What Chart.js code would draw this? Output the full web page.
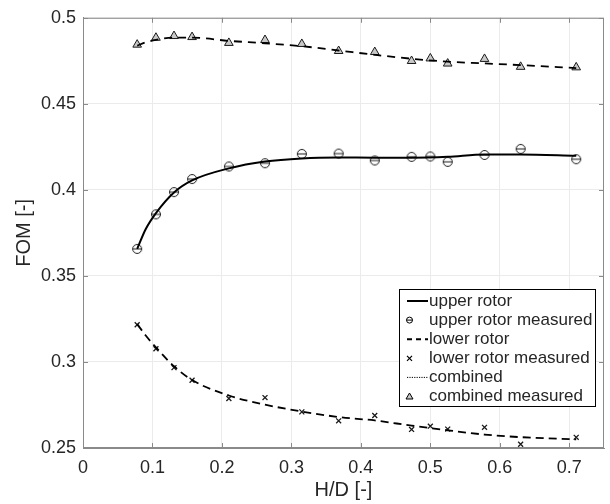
<!DOCTYPE html>
<html>
<head>
<meta charset="utf-8">
<script src="https://cdn.jsdelivr.net/npm/chart.js@4.4.1/dist/chart.umd.min.js"></script>
<style>
  html, body { margin: 0; padding: 0; background: #fff; }
  #wrap { width: 610px; height: 504px; }
</style>
</head>
<body>
<div id="wrap"><canvas id="fom" width="610" height="504"></canvas></div>
<script>
// ── Data ─────────────────────────────────────────────────────────────────────
// H/D of the measured points
const hdMeas = [0.078, 0.105, 0.131, 0.157, 0.21, 0.262, 0.315, 0.368, 0.42, 0.473, 0.5, 0.525, 0.578, 0.63, 0.71];
const upperMeas    = [0.3657, 0.3858, 0.3987, 0.4063, 0.4136, 0.4155, 0.4209, 0.4211, 0.4171, 0.4192, 0.4194, 0.4163, 0.4203, 0.4238, 0.4178];
const lowerMeas    = [0.3216, 0.3077, 0.2967, 0.2894, 0.2788, 0.2793, 0.2710, 0.2658, 0.2689, 0.2608, 0.2627, 0.2610, 0.2620, 0.2522, 0.2562];
const combinedMeas = [0.4844, 0.4884, 0.4894, 0.4888, 0.4854, 0.4871, 0.4848, 0.4807, 0.4801, 0.4749, 0.4764, 0.4734, 0.4761, 0.4715, 0.4712];

// H/D of the fitted curves
const hdFit = [0.078, 0.09, 0.105, 0.131, 0.157, 0.21, 0.262, 0.315, 0.368, 0.42, 0.473, 0.525, 0.578, 0.63, 0.71];
const upperFit    = [0.3657, 0.3770, 0.3865, 0.3985, 0.4055, 0.4125, 0.4165, 0.4183, 0.4188, 0.4187, 0.4187, 0.4192, 0.4205, 0.4205, 0.4198];
const lowerFit    = [0.3220, 0.3155, 0.3085, 0.2975, 0.2895, 0.2805, 0.2752, 0.2712, 0.2680, 0.2660, 0.2630, 0.2603, 0.2578, 0.2563, 0.2550];
const combinedFit = [0.4838, 0.4857, 0.4872, 0.4885, 0.4885, 0.4866, 0.4852, 0.4835, 0.4810, 0.4785, 0.4762, 0.4745, 0.4735, 0.4725, 0.4708];

const xTicks = [0, 0.1, 0.2, 0.3, 0.4, 0.5, 0.6, 0.7];
const yTicks = [0.25, 0.3, 0.35, 0.4, 0.45, 0.5];

const FONT = 'Liberation Sans, Arial, Helvetica, sans-serif';
const TXT  = '#262626';
const AXIS = '#8a8a8a';

const pts = (xs, ys) => xs.map((x, i) => ({ x, y: ys[i] }));
const fmt = v => String(+v.toFixed(2));

// circle marker with a bar through it
function thetaMarker(r) {
    const s = Math.ceil(r * 2 + 3);
    const c = document.createElement('canvas');
    c.width = s; c.height = s;
    const g = c.getContext('2d');
    g.strokeStyle = '#1a1a1a';
    g.lineWidth = 1;
    g.beginPath();
    g.arc(s / 2, s / 2, r, 0, Math.PI * 2);
    g.moveTo(s / 2 - r, s / 2);
    g.lineTo(s / 2 + r, s / 2);
    g.stroke();
    return c;
}
const thetaBig = thetaMarker(4.5);

const lineSet = (label, xs, ys, dash, width) => ({
    label, data: pts(xs, ys), showLine: true, pointRadius: 0,
    borderColor: '#000', borderWidth: width, borderDash: dash,
    cubicInterpolationMode: 'monotone', fill: false
});

// ── Frame, inner ticks, axis titles, legend ──────────────────────────────────
const decorPlugin = {
    id: 'decor',
    afterDraw(chart) {
        const { ctx, chartArea: a, scales: { x, y } } = chart;
        ctx.save();
        ctx.strokeStyle = AXIS;
        ctx.lineWidth = 1;
        ctx.strokeRect(a.left + 0.5, a.top + 0.5, a.right - a.left - 1, a.bottom - a.top - 1);
        ctx.beginPath();
        xTicks.forEach(v => {
            const px = Math.round(x.getPixelForValue(v)) + 0.5;
            ctx.moveTo(px, a.bottom); ctx.lineTo(px, a.bottom - 5);
            ctx.moveTo(px, a.top); ctx.lineTo(px, a.top + 5);
        });
        yTicks.forEach(v => {
            const py = Math.round(y.getPixelForValue(v)) + 0.5;
            ctx.moveTo(a.left, py); ctx.lineTo(a.left + 5, py);
            ctx.moveTo(a.right, py); ctx.lineTo(a.right - 5, py);
        });
        ctx.stroke();

        // axis titles
        ctx.fillStyle = TXT;
        ctx.font = '20px ' + FONT;
        ctx.textAlign = 'center';
        ctx.textBaseline = 'middle';
        ctx.fillText('H/D [-]', (a.left + a.right) / 2, 490);
        ctx.translate(24, (a.top + a.bottom) / 2);
        ctx.rotate(-Math.PI / 2);
        ctx.fillText('FOM [-]', 0, 0);
        ctx.setTransform(1, 0, 0, 1, 0, 0);

        // legend
        const L = 399.5, T = 289.5, W = 196, H = 117;
        ctx.fillStyle = '#fff';
        ctx.fillRect(L, T, W, H);
        ctx.strokeStyle = '#000';
        ctx.strokeRect(L, T, W, H);
        const rows = [
            { text: 'upper rotor', kind: 'line', dash: [] },
            { text: 'upper rotor measured', kind: 'theta' },
            { text: 'lower rotor', kind: 'line', dash: [5, 4] },
            { text: 'lower rotor measured', kind: 'cross' },
            { text: 'combined', kind: 'line', dash: [1.2, 1.2], width: 1 },
            { text: 'combined measured', kind: 'tri' }
        ];
        ctx.font = '17px ' + FONT;
        ctx.textAlign = 'left';
        rows.forEach((r, i) => {
            const cy = 301 + i * 19.1;
            const mx = 409.5;
            ctx.strokeStyle = '#000';
            if (r.kind === 'line') {
                ctx.setLineDash(r.dash);
                ctx.lineWidth = r.width || 2;
                ctx.beginPath();
                ctx.moveTo(407, cy); ctx.lineTo(428, cy);
                ctx.stroke();
                ctx.setLineDash([]);
            } else if (r.kind === 'theta') {
                ctx.lineWidth = 1;
                ctx.beginPath();
                ctx.arc(mx, cy, 3, 0, Math.PI * 2);
                ctx.moveTo(mx - 3, cy); ctx.lineTo(mx + 3, cy);
                ctx.stroke();
            } else if (r.kind === 'cross') {
                ctx.lineWidth = 1.2;
                ctx.beginPath();
                ctx.moveTo(mx - 2.5, cy - 2.5); ctx.lineTo(mx + 2.5, cy + 2.5);
                ctx.moveTo(mx + 2.5, cy - 2.5); ctx.lineTo(mx - 2.5, cy + 2.5);
                ctx.stroke();
            } else {
                ctx.lineWidth = 1;
                ctx.fillStyle = '#c8c8c8';
                ctx.beginPath();
                ctx.moveTo(mx, cy - 3.5); ctx.lineTo(mx + 3.5, cy + 2.5); ctx.lineTo(mx - 3.5, cy + 2.5);
                ctx.closePath();
                ctx.fill(); ctx.stroke();
            }
            ctx.fillStyle = TXT;
            ctx.fillText(r.text, 429, cy);
        });
        ctx.restore();
    }
};

// ── Chart ────────────────────────────────────────────────────────────────────
new Chart(document.getElementById('fom'), {
    type: 'scatter',
    data: {
        datasets: [
            lineSet('upper rotor', hdFit, upperFit, [], 2),
            {
                label: 'upper rotor measured', data: pts(hdMeas, upperMeas),
                pointStyle: thetaBig, pointRadius: 5
            },
            lineSet('lower rotor', hdFit, lowerFit, [8, 5], 1.8),
            {
                label: 'lower rotor measured', data: pts(hdMeas, lowerMeas),
                pointStyle: 'crossRot', pointRadius: 3.5, borderColor: '#1a1a1a', borderWidth: 1.3
            },
            lineSet('combined', hdFit, combinedFit, [8, 6], 1.8),
            {
                label: 'combined measured', data: pts(hdMeas, combinedMeas),
                pointStyle: 'triangle', pointRadius: 5,
                backgroundColor: '#c8c8c8', borderColor: '#1a1a1a', borderWidth: 1
            }
        ]
    },
    options: {
        responsive: false,
        animation: false,
        devicePixelRatio: 1,
        layout: { padding: { top: 16, right: 2, left: 0, bottom: 0 } },
        plugins: { legend: { display: false }, tooltip: { enabled: false } },
        scales: {
            x: {
                type: 'linear', min: 0, max: 0.75,
                afterBuildTicks: s => { s.ticks = xTicks.map(v => ({ value: v })); },
                afterFit: s => { s.height = 56; },
                ticks: { callback: fmt, color: TXT, font: { family: FONT, size: 18 }, padding: 9, maxRotation: 0 },
                grid: { color: '#ebebeb', drawTicks: false },
                border: { color: AXIS }
            },
            y: {
                type: 'linear', min: 0.25, max: 0.5,
                afterBuildTicks: s => { s.ticks = yTicks.map(v => ({ value: v })); },
                afterFit: s => { s.width = 83; },
                ticks: { callback: fmt, color: TXT, font: { family: FONT, size: 18 }, padding: 7 },
                grid: { color: '#ebebeb', drawTicks: false },
                border: { color: AXIS }
            }
        }
    },
    plugins: [decorPlugin]
});
</script>
</body>
</html>
